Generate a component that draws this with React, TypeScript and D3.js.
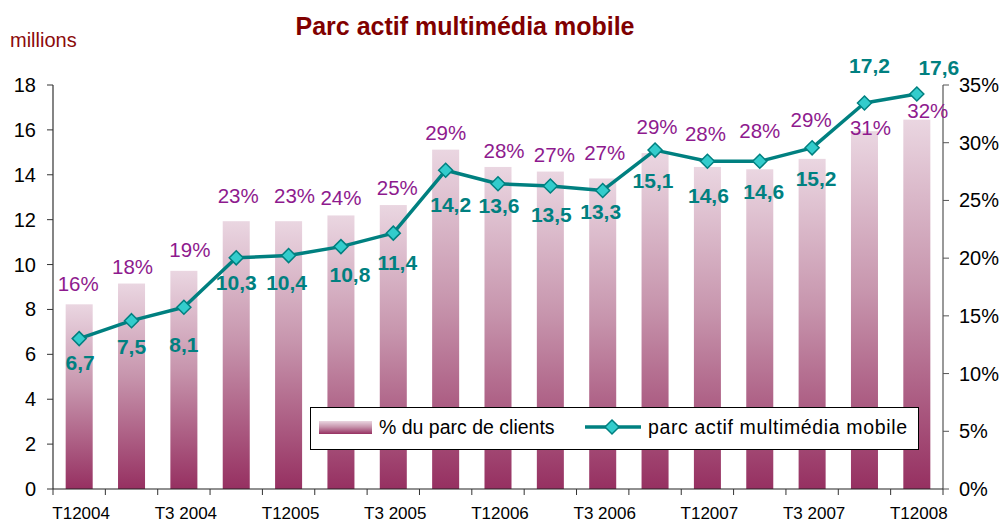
import React from "react";
import * as d3 from "d3";

const quarters = [
  "T1 2004", "T2 2004", "T3 2004", "T4 2004",
  "T1 2005", "T2 2005", "T3 2005", "T4 2005",
  "T1 2006", "T2 2006", "T3 2006", "T4 2006",
  "T1 2007", "T2 2007", "T3 2007", "T4 2007",
  "T1 2008",
];
const tickLabels = [
  "T12004", "", "T3 2004", "", "T12005", "", "T3 2005", "",
  "T12006", "", "T3 2006", "", "T12007", "", "T3 2007", "", "T12008",
];
const parcActif = [6.7, 7.5, 8.1, 10.3, 10.4, 10.8, 11.4, 14.2, 13.6, 13.5, 13.3, 15.1, 14.6, 14.6, 15.2, 17.2, 17.6];
const parcLabels = ["6,7", "7,5", "8,1", "10,3", "10,4", "10,8", "11,4", "14,2", "13,6", "13,5", "13,3", "15,1", "14,6", "14,6", "15,2", "17,2", "17,6"];
const pctClients = [16.0, 17.8, 18.9, 23.2, 23.2, 23.7, 24.6, 29.4, 27.9, 27.5, 26.9, 29.1, 27.9, 27.7, 28.6, 31.0, 32.0];
const pctLabels = ["16%", "18%", "19%", "23%", "23%", "24%", "25%", "29%", "28%", "27%", "27%", "29%", "28%", "28%", "29%", "31%", "32%"];
const leftTicks = [0, 2, 4, 6, 8, 10, 12, 14, 16, 18];
const rightTicks = [0, 5, 10, 15, 20, 25, 30, 35];

// label placement nudges (layout, px)
const pctLabelLift = [13, 10, 14, 18, 18, 10, 10, 10, 9, 10, 18, 19, 26, 31, 32, -4, 2];
const pctLabelDx = [-1, 1, 6, 2, 6, 0, 4, 0, 6, 4, 2, 2, -2, 0, -1, 6, 11];
const parcLabelDrop = [31, 33, 45, 32, 34, 35, 37, 42, 29, 36, 29, 38, 42, 38, 38, -30, -19];
const parcLabelDx = [1, 0, 0, 0, -2, 9, 4, 5, 1, 1, -2, -2, 1, 4, 4, 5, 22];

const W = 1005, H = 524;
const L = 53, R = 943, T = 85, B = 489;
const FONT = "'Liberation Sans', Arial, sans-serif";

export default function App() {
  const x = d3.scaleBand<number>()
    .domain(quarters.map((_, i) => i))
    .range([L, R])
    .paddingInner(0.484)
    .paddingOuter(0.242);
  const step = x.step();
  const bw = x.bandwidth();
  const cx = (i: number) => (x(i) as number) + bw / 2;
  const yL = d3.scaleLinear().domain([0, 18]).range([B, T]);
  const yR = d3.scaleLinear().domain([0, 35]).range([B, T]);

  const line = d3.line<number>().x((_, i) => cx(i)).y((d) => yL(d));
  const diamond = (px: number, py: number, r: number) =>
    `M${px},${py - r}L${px + r},${py}L${px},${py + r}L${px - r},${py}Z`;

  const boundaries = d3.range(quarters.length + 1).map((i) => L + i * step);

  return (
    <svg width={W} height={H} style={{ position: "absolute", left: 0, top: 0, background: "#fff" }}
      fontFamily={FONT}>
      <defs>
        <linearGradient id="barGrad" x1="0" y1="0" x2="0" y2="1">
          <stop offset="0%" stopColor="#ead6e1" />
          <stop offset="45%" stopColor="#c795ad" />
          <stop offset="100%" stopColor="#963061" />
        </linearGradient>
      </defs>
      <rect x={0} y={0} width={W} height={H} fill="#fff" />

      <text x={465} y={35} textAnchor="middle" fontSize={25} fontWeight="bold" fill="#800000">
        Parc actif multimédia mobile
      </text>
      <text x={10} y={47} fontSize={20} fill="#8b0a0a">millions</text>

      {pctClients.map((p, i) => (
        <rect key={"b" + i} x={x(i)} y={yR(p)} width={bw} height={B - yR(p)} fill="url(#barGrad)" />
      ))}

      {/* axes */}
      <line x1={L} x2={L} y1={T} y2={B} stroke="#333" strokeWidth={1.2} />
      <line x1={R} x2={R} y1={T} y2={B} stroke="#555" strokeWidth={1.2} />
      <line x1={L} x2={R} y1={B} y2={B} stroke="#222" strokeWidth={1.2} />
      {leftTicks.map((t) => (
        <g key={"lt" + t}>
          <line x1={L - 6} x2={L} y1={yL(t)} y2={yL(t)} stroke="#333" />
          <text x={36} y={yL(t) + 7} textAnchor="end" fontSize={20} fill="#000">{t}</text>
        </g>
      ))}
      {rightTicks.map((t) => (
        <g key={"rt" + t}>
          <line x1={R} x2={R + 6} y1={yR(t)} y2={yR(t)} stroke="#555" />
          <text x={959} y={yR(t) + 7} fontSize={20} fill="#000">{t + "%"}</text>
        </g>
      ))}
      {boundaries.map((bx, i) => (
        <line key={"xt" + i} x1={bx} x2={bx} y1={B} y2={B + 6} stroke="#333" />
      ))}
      {tickLabels.map((lab, i) =>
        lab ? (
          <text key={"xl" + i} x={cx(i) + 2} y={519} textAnchor="middle" fontSize={17} fill="#000">{lab}</text>
        ) : null
      )}

      {/* line series */}
      <path d={line(parcActif) || ""} fill="none" stroke="#008080" strokeWidth={3.5} strokeLinejoin="round" />
      {parcActif.map((v, i) => (
        <path key={"m" + i} d={diamond(cx(i), yL(v), 7)} fill="#33cccc" stroke="#008080" strokeWidth={1.5} />
      ))}

      {/* labels */}
      {pctClients.map((p, i) => (
        <text key={"pl" + i} x={cx(i) + pctLabelDx[i]} y={yR(p) - pctLabelLift[i]} textAnchor="middle"
          fontSize={20.5} fill="#8e1a8e">{pctLabels[i]}</text>
      ))}
      {parcActif.map((v, i) => (
        <text key={"vl" + i} x={cx(i) + parcLabelDx[i]} y={yL(v) + parcLabelDrop[i]} textAnchor="middle"
          fontSize={21} fontWeight="bold" fill="#008080">{parcLabels[i]}</text>
      ))}

      {/* legend */}
      <g>
        <rect x={310.5} y={407.5} width={608} height={42} fill="#fff" stroke="#000" strokeWidth={1} />
        <rect x={319} y={421} width={53} height={13} fill="url(#barGrad)" />
        <text x={379} y={434} fontSize={19.5} fill="#000">% du parc de clients</text>
        <line x1={585} x2={641} y1={427} y2={427} stroke="#008080" strokeWidth={3.5} />
        <path d={diamond(612, 427, 7)} fill="#33cccc" stroke="#008080" strokeWidth={1.5} />
        <text x={648} y={434} fontSize={19.5} fill="#000" textLength={259} lengthAdjust="spacing">parc actif multimédia mobile</text>
      </g>
    </svg>
  );
}
